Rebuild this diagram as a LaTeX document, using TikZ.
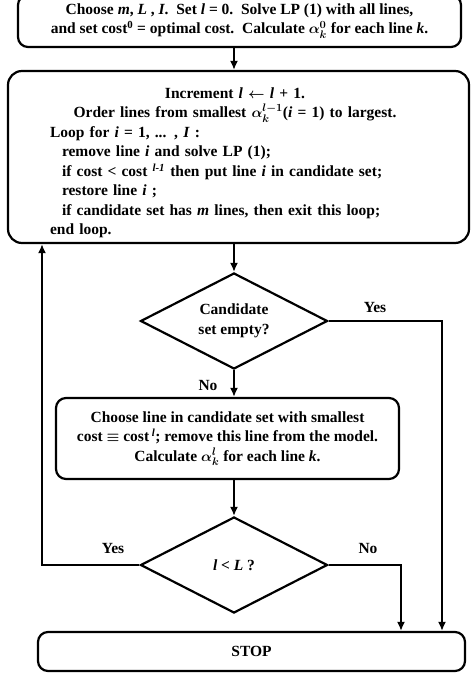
\documentclass[tikz,border=0pt]{standalone}
\usepackage{fontspec}
\setmainfont{Liberation Serif}
\usetikzlibrary{shapes.geometric,arrows.meta}

\newcommand{\flowfont}{\fontsize{15.5}{19.5}\selectfont\bfseries\boldmath}
\newcommand{\ital}[1]{\textit{#1}}
\tikzset{
  box/.style={draw,rounded corners=10pt,line width=2.2pt,align=center,font=\flowfont},
  decision/.style={draw,diamond,line width=2.2pt,minimum width=187pt,minimum height=96pt,inner sep=0pt},
  tag/.style={font=\flowfont}
}

\begin{document}
\begin{tikzpicture}[x=1pt,y=-1pt,>={Latex[length=9pt,width=8pt]},line width=2.2pt]
	\useasboundingbox (0,0) rectangle (474,695);
	\node[box,minimum width=443pt,minimum height=52pt] (start) at (239.5,21) {Choose \ital{m}, \ital{L} , \ital{I}.\ \ Set \ital{l} = 0.\ \ Solve LP (1) with all lines,\\ and set cost\textsuperscript{0} = optimal cost.\ \ Calculate $\alpha_k^0$ for each line \ital{k}.};
	\node[box,rounded corners=14pt,minimum width=461pt,minimum height=172pt] (loop) at (238.5,157) {};
	\node[font=\flowfont,text width=370pt,align=left] (looptxt) at (235,163) {\makebox[\linewidth][c]{Increment \ital{l} $\leftarrow$ \ital{l} + 1.}\\
		\makebox[\linewidth][c]{Order lines from smallest $\alpha_k^{l-1}$(\ital{i} = 1) to largest.}\\
		Loop for \ital{i} = 1, ... , \ital{I} :\\
		\hspace*{12pt}remove line \ital{i} and solve LP (1);\\
		\hspace*{12pt}if cost < cost \textsuperscript{\ital{l-1}} then put line \ital{i} in candidate set;\\
		\hspace*{12pt}restore line \ital{i} ;\\
		\hspace*{12pt}if candidate set has \ital{m} lines, then exit this loop;\\
		end loop.};
	\node[decision,label={[font=\flowfont,align=center]center:Candidate\\set empty?}] (q1) at (234,321) {};
	\node[box,minimum width=343pt,minimum height=81pt] (pick) at (227.5,438.5) {Choose line in candidate set with smallest\\ cost $\equiv$ cost\,\textsuperscript{\ital{l}}; remove this line from the model.\\ Calculate $\alpha_k^l$ for each line \ital{k}.};
	\node[decision,label={[font=\flowfont]center:\ital{l} < \ital{L} ?}] (q2) at (234,565) {};
	\node[box,minimum width=427pt,minimum height=39pt] (stop) at (251.5,651.5) {STOP};
	\coordinate (yesR) at (442,0);
	\coordinate (noR) at (401,0);
	\coordinate (yesL) at (42,0);
	\draw[->] (start.south -| q1.north) -- (loop.north -| q1.north);
	\draw[->] (loop.south -| q1.north) -- (q1.north);
	\draw[->] (q1.south) -- (q1.south |- pick.north);
	\draw[->] (pick.south -| q2.north) -- (q2.north);
	\draw[->] (q1.east) -| (yesR |- stop.north);
	\draw[->] (q2.east) -| (noR |- stop.north);
	\draw[->] (q2.west) -| (yesL |- loop.south);
	\node[tag] (yes1) at (375,307) {Yes};
	\node[tag] (no1) at (208,385) {No};
	\node[tag] (yes2) at (113,548) {Yes};
	\node[tag] (no2) at (368,548) {No};
\end{tikzpicture}
\end{document}
